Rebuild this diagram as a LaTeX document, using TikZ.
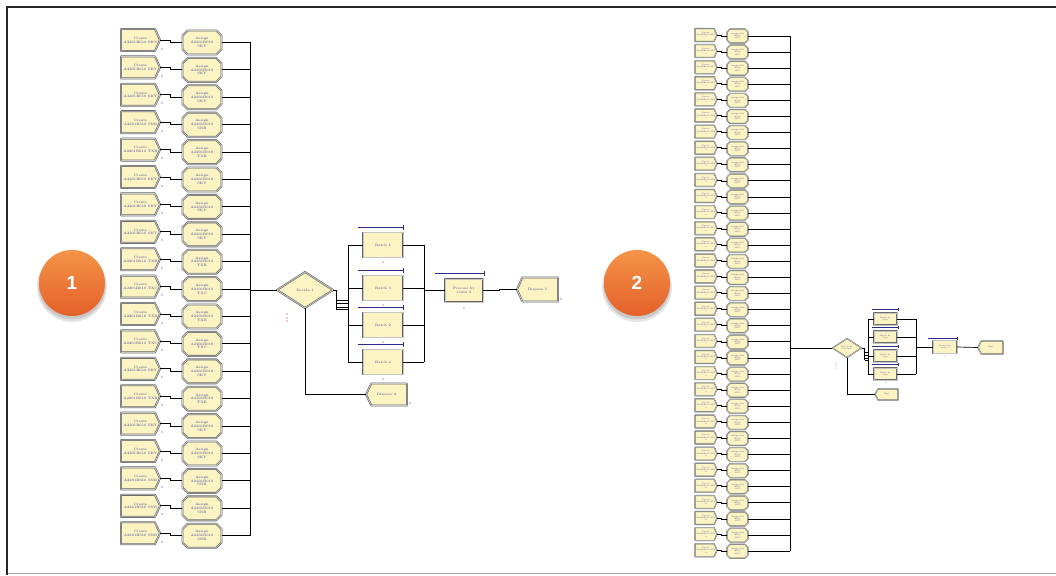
\documentclass[tikz,border=0pt]{standalone}
\usepackage{fontspec}
\newfontfamily\numfont{Liberation Sans}
\usetikzlibrary{calc}

\definecolor{modfill}{HTML}{FBF4C2}
\definecolor{modtxt}{HTML}{3A3AA0}
\definecolor{qbar}{HTML}{2B2B8C}
\definecolor{cntred}{HTML}{D04848}
\definecolor{cntblue}{HTML}{4A5AC8}
\definecolor{ballhi}{HTML}{F49448}
\definecolor{balllo}{HTML}{E4602A}

\tikzset{
  bigshell/.style={fill=modfill, draw=black!62, line width=1.9pt, line join=round},
  biginner/.style={draw=gray!45, line width=0.8pt, line join=round},
  smallshell/.style={fill=modfill, draw=black!58, line width=1.2pt, line join=round},
  smallinner/.style={draw=gray!45, line width=0.45pt, line join=round},
  biglbl/.style={inner sep=0pt, align=center, text=modtxt, font=\fontsize{3.4}{3.9}\selectfont},
  smalllbl/.style={inner sep=0pt, align=center, text=modtxt, font=\fontsize{1.9}{2.3}\selectfont},
  wire/.style={draw=black, line width=0.9pt},
  wireS/.style={draw=black, line width=0.7pt},
  qline/.style={draw=qbar, line width=0.9pt},
  qlineS/.style={draw=qbar, line width=0.6pt},
  cntR/.style={inner sep=0pt, text=cntred, font=\fontsize{3.2}{3.2}\selectfont},
  cntB/.style={inner sep=0pt, text=cntblue, font=\fontsize{3.2}{3.2}\selectfont},
  ball/.style={circle, minimum size=66pt, inner sep=0pt, top color=ballhi, bottom color=balllo,
               text=white, font=\numfont\bfseries\fontsize{19}{19}\selectfont},
}

% outline paths: centre x, centre y, width, height
\newcommand\pCreate[4]{({#1-#3/2},{#2-#4/2}) -- ({#1+#3/2-0.13*#3},{#2-#4/2}) -- ({#1+#3/2},#2)
  -- ({#1+#3/2-0.13*#3},{#2+#4/2}) -- ({#1-#3/2},{#2+#4/2}) -- cycle}
\newcommand\pDispose[4]{({#1-#3/2+0.13*#3},{#2-#4/2}) -- ({#1+#3/2},{#2-#4/2}) -- ({#1+#3/2},{#2+#4/2})
  -- ({#1-#3/2+0.13*#3},{#2+#4/2}) -- ({#1-#3/2},#2) -- cycle}
\newcommand\pAssign[4]{({#1-#3/2+0.22*#4},{#2-#4/2}) -- ({#1+#3/2-0.22*#4},{#2-#4/2})
  -- ({#1+#3/2},{#2-#4/2+0.22*#4}) -- ({#1+#3/2},{#2+#4/2-0.22*#4})
  -- ({#1+#3/2-0.22*#4},{#2+#4/2}) -- ({#1-#3/2+0.22*#4},{#2+#4/2})
  -- ({#1-#3/2},{#2+#4/2-0.22*#4}) -- ({#1-#3/2},{#2-#4/2+0.22*#4}) -- cycle}
\newcommand\pBox[4]{({#1-#3/2},{#2-#4/2}) rectangle ({#1+#3/2},{#2+#4/2})}
\newcommand\pDecide[4]{({#1-#3/2},#2) -- (#1,{#2-#4/2}) -- ({#1+#3/2},#2) -- (#1,{#2+#4/2}) -- cycle}

% module: #1 outline macro, #2 name, #3 x, #4 y, #5 w, #6 h, #7 big/small, #8 text
\newcommand\arenamod[8]{%
  \path[#7shell] #1{#3}{#4}{#5}{#6};
  \path[#7inner] #1{#3}{#4}{#5}{#6};
  \node[#7lbl, minimum width=#5pt, minimum height=#6pt] (#2) at (#3,#4) {#8};
}

\begin{document}
\begin{tikzpicture}[x=1pt, y=-1pt]
\useasboundingbox (0,0) rectangle (1056,575);
\fill[white] (0,0) rectangle (1056,575);

% frame
\draw[gray!65, line width=1.4pt] (7,573.5) -- (1056,573.5);
\draw[black!85, line width=1.6pt] (7,575) -- (7,7) -- (1056,7);

% ---------------- model 1 ----------------
\coordinate (bus1) at (250,0);
\foreach \code [count=\i] in {SKY,SKY,SKY,SNB,TXB,SKY,SKY,SKY,TXB,TXC,TXB,TXC,SKY,TXB,SKY,SKY,SNB,SNB,SNB}{
  \pgfmathsetmacro\yc{40+(\i-1)*27.4}
  \pgfmathsetmacro\ya{\yc+2.5}
  \arenamod{\pCreate}{c\i}{140.5}{\yc}{39}{22}{big}{Create\\A2201B010 \code}
  \node[cntB] at (162,{\yc+9}) {0};
  \arenamod{\pAssign}{a\i}{202}{\ya}{39}{24}{big}{Assign\\A2201B010\\\code}
  \draw[wire] (c\i.east) -- ++(10,0) |- (a\i.west);
  \draw[wire] (a\i.east) -- (a\i.east -| bus1);
}
\draw[wire] (a1.east -| bus1) -- (a19.east -| bus1);

\arenamod{\pDecide}{d1}{305}{290}{56}{36}{big}{Decide 1}
\draw[wire] (d1.west -| bus1) -- (d1.west);
\node[cntR, rotate=90] at (287,318) {0 0 0};

% batches
\coordinate (lb1) at (348,0);
\coordinate (rb1) at (424,0);
\foreach \nm/\yy/\tx in {bA/245/Batch 1, bB/288/Batch 3, bC/325/Batch 2, bD/362/Batch 4}{
  \arenamod{\pBox}{\nm}{383}{\yy}{40}{25}{big}{\tx}
  \draw[qline] (358,{\yy-17.5}) -- (403,{\yy-17.5}) ++(0,-2.5) -- ++(0,5);
  \node[cntR] at (383,{\yy+17.5}) {0};
  \draw[wire] (\nm.west -| lb1) -- (\nm.west);
  \draw[wire] (\nm.east) -- (\nm.east -| rb1);
}
\draw[wire] (bA.west -| lb1) -- (bD.west -| lb1);
\draw[wire] (bA.east -| rb1) -- (bD.east -| rb1);

% decide exits
\draw[wire] (d1.east) -- ++(3,0) coordinate (dk1) -- ++(0,19);
\foreach \dy in {10,13.5,17,19}{
  \draw[wire] ($(dk1)+(0,\dy)$) -- ($(lb1 |- dk1)+(0,\dy)$);
}

\arenamod{\pBox}{p1}{464}{290.5}{38}{23}{big}{Process by\\route 3}
\draw[qline] (435,273) -- (484,273) ++(0,-2.5) -- ++(0,5);
\node[cntR] at (464,308) {0};
\draw[wire] (p1.west -| rb1) -- (p1.west);

\arenamod{\pDispose}{x5}{537.5}{289.5}{41}{24}{big}{Dispose 5}
\node[cntB] at (561,299) {0};
\draw[wire] (p1.east) -- ++(16,0) |- (x5.west);

\arenamod{\pDispose}{x4}{386.5}{394.5}{41}{22}{big}{Dispose 4}
\node[cntB] at (410,403) {0};
\draw[wire] (d1.south) |- (x4.west);

% ---------------- model 2 ----------------
\coordinate (bus2) at (790,0);
\foreach \i in {1,...,33}{
  \pgfmathsetmacro\yc{35+(\i-1)*16.1}
  \pgfmathsetmacro\ya{\yc+1}
  \arenamod{\pCreate}{e\i}{706}{\yc}{22}{13}{small}{Create\\A2201B010 SKY\\0}
  \arenamod{\pAssign}{f\i}{737.5}{\ya}{21}{14}{small}{Assign A22\\B010\\SKY}
  \draw[wireS] (e\i.east) -- ++(4,0) |- (f\i.west);
  \draw[wire] (f\i.east) -- (f\i.east -| bus2);
}
\draw[wire] (f1.east -| bus2) -- (f33.east -| bus2);

\arenamod{\pDecide}{d2}{847}{348}{29}{19}{small}{Decide by\\Product}
\draw[wire] (d2.west -| bus2) -- (d2.west);
\node[cntR, rotate=90, font=\fontsize{2.2}{2.2}\selectfont] at (836,366) {0 0 0};

\coordinate (lb2) at (868,0);
\coordinate (rb2) at (916,0);
\foreach \nm/\yy in {gA/319, gB/337, gC/356, gD/374}{
  \arenamod{\pBox}{\nm}{885.5}{\yy}{23}{12}{small}{Batch by\\Type}
  \draw[qlineS] (872,{\yy-10}) -- (898,{\yy-10}) ++(0,-1.5) -- ++(0,3);
  \draw[wireS] (\nm.west -| lb2) -- (\nm.west);
  \draw[wireS] (\nm.east) -- (\nm.east -| rb2);
}
\draw[wireS] (gA.west -| lb2) -- (gD.west -| lb2);
\draw[wireS] (gA.east -| rb2) -- (gD.east -| rb2);
\node[cntR, font=\fontsize{2.2}{2.2}\selectfont] at (885.5,383) {0};

\draw[wireS] (d2.east) -- ++(3,0) coordinate (dk2) -- ++(0,12);
\foreach \dy in {4,7,10,12}{
  \draw[wireS] ($(dk2)+(0,\dy)$) -- ($(lb2 |- dk2)+(0,\dy)$);
}

\arenamod{\pBox}{p2}{945}{347}{24}{13}{small}{Process by\\route 3}
\draw[qlineS] (928,338) -- (957,338) ++(0,-1.5) -- ++(0,3);
\node[cntR, font=\fontsize{2.2}{2.2}\selectfont] at (945,357) {0};
\draw[wireS] (p2.west -| rb2) -- (p2.west);

\arenamod{\pDispose}{x2}{990.5}{347.5}{25}{13}{small}{Disp}
\draw[wireS] (p2.east) -- (x2.west);

\arenamod{\pDispose}{x3}{886.5}{394.5}{23}{11}{small}{Disp}
\draw[wireS] (d2.south) |- (x3.west);

% ---------------- numbered markers ----------------
\foreach \nm/\xx/\tx in {n1/72/1, n2/637/2}{
  \fill[black, opacity=0.10] (\xx,287) circle (35);
  \fill[black, opacity=0.12] (\xx,286) circle (33.5);
  \node[ball] (\nm) at (\xx,283) {\tx};
}
\end{tikzpicture}
\end{document}
